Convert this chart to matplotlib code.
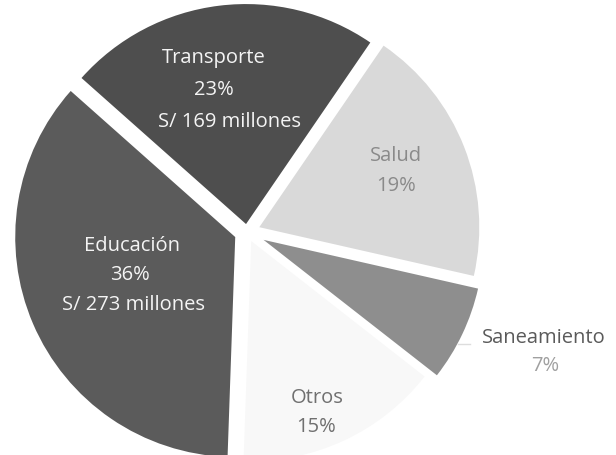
import matplotlib
matplotlib.use("Agg")
import matplotlib.pyplot as plt

# ---- data ----
categories = ["Educación", "Transporte", "Salud", "Saneamiento", "Otros"]
percents = [36, 23, 19, 7, 15]
amounts = [273, 169, None, None, None]  # S/ millones

# ---- styles ----
colors = ["#5b5b5b", "#4e4e4e", "#d9d9d9", "#8e8e8e", "#f8f8f8"]
explode_px = [12.8, 8.0, 13.2, 18.3, 10.0]

W, H = 616, 456
R = 220.0
cx, cy = 247.0, 233.0

fig = plt.figure(figsize=(W / 100, H / 100), dpi=100)
ax = fig.add_axes([0, 0, 1, 1])
ax.pie(percents, colors=colors, startangle=268, counterclock=False,
       radius=1.0, center=(0, 0), explode=[e / R for e in explode_px],
       wedgeprops=dict(linewidth=0))
ax.set_xlim(-cx / R, (W - cx) / R)
ax.set_ylim((cy - H) / R, cy / R)
ax.set_aspect("auto")
ax.axis("off")


def px(x, y):
    return (x - cx) / R, (cy - y) / R


FONT = ["Open Sans", "DejaVu Sans"]
FS = 14.5


def put(x, y, s, color):
    ax.text(*px(x, y), s, ha="center", va="center", fontsize=FS,
            color=color, family=FONT)


# label positions (pixels) per category
label_pos = {
    "Educación": [(132, 246), (130, 275), (133, 305)],
    "Transporte": [(214, 58), (214, 90), (229, 122)],
    "Salud": [(396, 156), (396, 186)],
    "Saneamiento": [(544, 338), (545, 366)],
    "Otros": [(317, 398), (316, 427)],
}
label_colors = {
    "Educación": ["#f4f4f4"] * 3,
    "Transporte": ["#f4f4f4"] * 3,
    "Salud": ["#8a8a8a"] * 2,
    "Saneamiento": ["#5a5a5a", "#a0a0a0"],
    "Otros": ["#707070"] * 2,
}

for cat, pct, amt in zip(categories, percents, amounts):
    lines = [cat, f"{pct}%"]
    if amt is not None:
        lines.append(f"S/ {amt} millones")
    for (x, y), s, c in zip(label_pos[cat], lines, label_colors[cat]):
        put(x, y, s, c)

# faint leader stub near Saneamiento label
ax.plot(*zip(px(458, 345), px(470, 345)), color="#dddddd", lw=1)

fig.savefig("out.png", dpi=100)
